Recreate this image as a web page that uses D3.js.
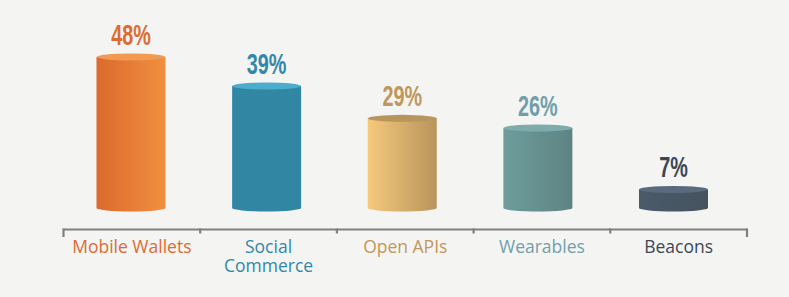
<!DOCTYPE html>
<html><head><meta charset="utf-8">
<script src="https://cdn.jsdelivr.net/npm/d3@7"></script>
<style>html,body{margin:0;padding:0;background:#f4f4f2;}svg{display:block;}</style>
</head><body><svg id="c" width="789" height="297"></svg>
<script>
const categories = ["Mobile Wallets", "Social Commerce", "Open APIs", "Wearables", "Beacons"];
const labelLines = [["Mobile Wallets"], ["Social", "Commerce"], ["Open APIs"], ["Wearables"], ["Beacons"]];
const values = [48, 39, 29, 26, 7];
const valueLabels = ["48%", "39%", "29%", "26%", "7%"];
const textColors = ["#dc6c33", "#3288aa", "#c0975c", "#6fa0aa", "#3c4756"];
const gradLeft  = ["#db6a2e", "#3186a4", "#f6c97c", "#6e9c9c", "#4b5a69"];
const gradRight = ["#f08f3e", "#3186a4", "#b8955c", "#5d8482", "#45535f"];
const topColors = ["#f09a52", "#4caccc", "#b8955d", "#7eabab", "#586a7c"];

const svg = d3.select("#c");
const axisY = 229.5;
const baseY = 208;

const xBand = d3.scaleBand().domain(categories).range([63.5, 747]).paddingInner(0).paddingOuter(0);
const xBar = d3.scalePoint().domain(categories).range([131, 673.5]);
const y = d3.scaleLinear().domain([1.25, 48]).range([baseY, 57]);

const barW = 69, rx = barW / 2, ry = 3.5;

const defs = svg.append("defs");
categories.forEach((c, i) => {
  const g = defs.append("linearGradient").attr("id", "g" + i).attr("x1", "0").attr("x2", "1").attr("y1", "0").attr("y2", "0");
  g.append("stop").attr("offset", "0").attr("stop-color", gradLeft[i]);
  g.append("stop").attr("offset", "1").attr("stop-color", gradRight[i]);
});

const bars = svg.append("g").selectAll("g").data(categories).join("g");
bars.append("path")
  .attr("fill", (d, i) => `url(#g${i})`)
  .attr("d", (d, i) => {
    const cx = xBar(d), l = cx - rx, r = cx + rx, t = y(values[i]);
    return `M${l},${t} L${l},${baseY} A${rx},${ry} 0 0 0 ${r},${baseY} L${r},${t} Z`;
  });
bars.append("ellipse")
  .attr("cx", d => xBar(d))
  .attr("cy", (d, i) => y(values[i]))
  .attr("rx", rx).attr("ry", ry)
  .attr("fill", (d, i) => topColors[i]);

bars.append("text")
  .attr("transform", (d, i) => `translate(${xBar(d)},${y(values[i]) - 12}) scale(0.66,1)`)
  .attr("text-anchor", "middle")
  .attr("font-family", "'Liberation Sans', Arial, sans-serif")
  .attr("font-weight", "bold")
  .attr("font-size", 30)
  .attr("fill", (d, i) => textColors[i])
  .text((d, i) => valueLabels[i]);

// axis
const ax = svg.append("g").attr("stroke", "#808080").attr("stroke-width", 2.2).attr("fill", "none");
ax.append("line").attr("x1", xBand.range()[0]).attr("x2", xBand.range()[1]).attr("y1", axisY).attr("y2", axisY);
const bounds = categories.map(c => xBand(c)).concat([xBand.range()[1]]);
ax.selectAll("line.t").data(bounds).join("line").attr("class", "t")
  .attr("x1", d => d).attr("x2", d => d)
  .attr("y1", axisY - 1.1)
  .attr("y2", (d, i) => (i === 0 || i === bounds.length - 1) ? 237 : 233.5);

const lab = svg.append("g").selectAll("text").data(categories).join("text")
  .attr("x", d => xBand(d) + xBand.bandwidth() / 2)
  .attr("y", 253)
  .attr("text-anchor", "middle")
  .attr("font-family", "'Open Sans', sans-serif")
  .attr("font-size", 17.5)
  .attr("fill", (d, i) => textColors[i]);
lab.each(function(d, i) {
  d3.select(this).selectAll("tspan").data(labelLines[i]).join("tspan")
    .attr("x", xBand(d) + xBand.bandwidth() / 2)
    .attr("dy", (t, j) => j === 0 ? 0 : 19)
    .text(t => t);
});
</script></body></html>
